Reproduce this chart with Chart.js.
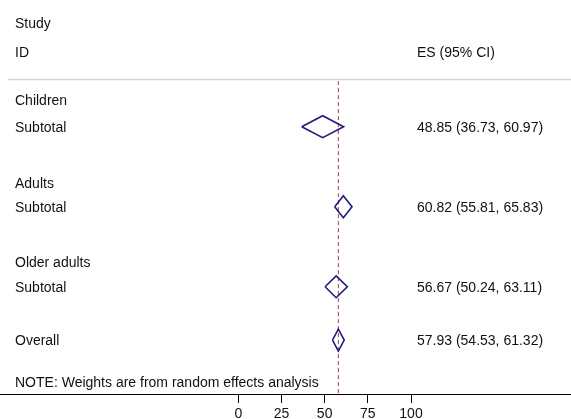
<!DOCTYPE html>
<html>
<head>
<meta charset="utf-8">
<script src="https://cdn.jsdelivr.net/npm/chart.js@4/dist/chart.umd.min.js"></script>
<style>
  html, body { margin: 0; padding: 0; background: #fff; }
  canvas { display: block; }
</style>
</head>
<body>
<canvas id="forest" width="571" height="419"></canvas>
<script>
// table rows (row units, top to bottom)
const headerStudy = 'Study';
const headerId = 'ID';
const headerEs = 'ES (95% CI)';
const rowLabels = ['Children', 'Subtotal', 'Adults', 'Subtotal', 'Older adults', 'Subtotal', 'Overall'];
const rowPos = [0, 1, 3.08, 4, 6.05, 7, 9];
const note = 'NOTE: Weights are from random effects analysis';

// pooled estimates: one subtotal per group, then overall
const poolPos = [1, 4, 7, 9];
const es = [48.85, 60.82, 56.67, 57.93];
const lo = [36.73, 55.81, 50.24, 54.53];
const hi = [60.97, 65.83, 63.11, 61.32];

const xTicks = [0, 25, 50, 75, 100];

// layout bits
const FONT = '14px "Liberation Sans", Arial, sans-serif';
const NAVY = '#1c1c7e';
const REF_RED = '#a83a3a';
const LEFT_X = 15, ES_X = 417, TEXT_DY = 1.5;
const STUDY_ROW = -2.92, ID_ROW = -1.82, SEP_ROW = -0.79, NOTE_ROW = 10.55;
const Y_MIN = -3.75, Y_MAX = 11.02;
const DH = 0.41; // diamond half height in rows

const fmt = v => v.toFixed(2);

const diamonds = es.map((v, i) => ({
  data: [
    { x: lo[i], y: poolPos[i] },
    { x: v, y: poolPos[i] - DH },
    { x: hi[i], y: poolPos[i] },
    { x: v, y: poolPos[i] + DH },
    { x: lo[i], y: poolPos[i] }
  ],
  showLine: true, borderColor: NAVY, borderWidth: 1.6,
  borderJoinStyle: 'miter', pointRadius: 0, fill: false, order: 1
}));

const nullLine = {
  data: [{ x: es[es.length - 1], y: SEP_ROW + 0.08 }, { x: es[es.length - 1], y: Y_MAX }],
  showLine: true, borderColor: REF_RED, borderWidth: 1,
  borderDash: [4, 3], pointRadius: 0, fill: false, order: 2
};

const tablePlugin = {
  id: 'table',
  beforeDatasetsDraw(chart) {
    const { ctx, chartArea, scales: { y } } = chart;
    const sy = Math.round(y.getPixelForValue(SEP_ROW)) + 0.5;
    ctx.save();
    ctx.strokeStyle = '#d4d4d4';
    ctx.lineWidth = 1.5;
    ctx.beginPath();
    ctx.moveTo(chartArea.left + 8, sy);
    ctx.lineTo(chartArea.right, sy);
    ctx.stroke();
    ctx.restore();
  },
  afterDatasetsDraw(chart) {
    const { ctx, scales: { y } } = chart;
    const ty = v => y.getPixelForValue(v) + TEXT_DY;
    ctx.save();
    ctx.font = FONT;
    ctx.fillStyle = '#111';
    ctx.textBaseline = 'middle';
    ctx.textAlign = 'left';
    ctx.fillText(headerStudy, LEFT_X, ty(STUDY_ROW));
    ctx.fillText(headerId, LEFT_X, ty(ID_ROW));
    ctx.fillText(headerEs, ES_X, ty(ID_ROW));
    rowLabels.forEach((t, i) => ctx.fillText(t, LEFT_X, ty(rowPos[i])));
    es.forEach((v, i) => {
      ctx.fillText(fmt(v) + ' (' + fmt(lo[i]) + ', ' + fmt(hi[i]) + ')', ES_X, ty(poolPos[i]));
    });
    ctx.fillText(note, LEFT_X, ty(NOTE_ROW));
    ctx.restore();
  }
};

new Chart(document.getElementById('forest'), {
  type: 'scatter',
  data: { datasets: [...diamonds, nullLine] },
  options: {
    responsive: false,
    animation: false,
    events: [],
    layout: { padding: 0 },
    plugins: { legend: { display: false }, tooltip: { enabled: false } },
    scales: {
      x: {
        type: 'linear',
        min: -138.0, max: 192.65,
        afterBuildTicks: s => { s.ticks = xTicks.map(v => ({ value: v })); },
        afterFit: s => { s.height = 25; },
        grid: { drawOnChartArea: false, drawTicks: true, tickLength: 9, tickColor: '#000', tickWidth: 1 },
        border: { display: true, color: '#000', width: 1 },
        ticks: {
          color: '#111', padding: 4, maxRotation: 0,
          font: { family: '"Liberation Sans", Arial, sans-serif', size: 14, lineHeight: 1 }
        }
      },
      y: {
        type: 'linear', reverse: true, display: false,
        min: Y_MIN, max: Y_MAX
      }
    }
  },
  plugins: [tablePlugin]
});
</script>
</body>
</html>
